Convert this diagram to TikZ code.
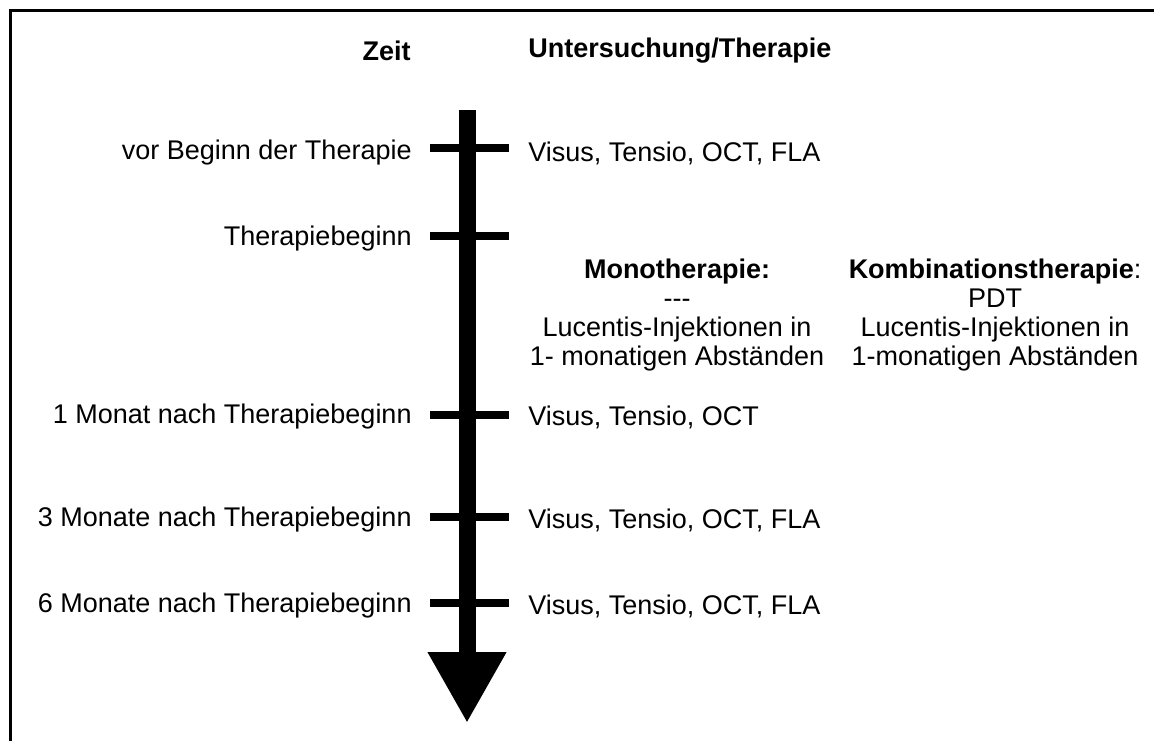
\documentclass[tikz,border=0pt]{standalone}
\usepackage{fontspec}
\setmainfont{Liberation Sans}
\usetikzlibrary{arrows.meta}

\begin{document}
\begin{tikzpicture}[x=0.5pt,y=-0.5pt,
  every node/.style={font=\fontsize{13.5}{14.5}\selectfont,inner sep=0pt},
  kopf/.style={font=\fontsize{13.5}{14.5}\selectfont\bfseries},
  zeitlabel/.style={anchor=east},
  befund/.style={anchor=west},
  block/.style={align=center},
  strich/.style={line width=4pt}]
\useasboundingbox (0,0) rectangle (1154,740);
\clip (0,0) rectangle (1154,740);

\draw[line width=1.5pt] (10,760) -- (10,10) -- (1170,10);

\node[kopf,zeitlabel] (zeit) at (411,51) {Zeit};
\node[kopf,befund] (unters) at (528,51) {Untersuchung/Therapie};

\coordinate (top) at (467,110);
\coordinate (tip) at (467,723);
\draw[line width=8.5pt,-{Triangle[length=35.5pt,width=37pt]}] (top) -- (tip);

\coordinate (t1l) at (430,148);
\coordinate (t1r) at (509,148);
\coordinate (t2l) at (430,236);
\coordinate (t2r) at (509,236);
\coordinate (t3l) at (430,415);
\coordinate (t3r) at (509,415);
\coordinate (t4l) at (430,517);
\coordinate (t4r) at (509,517);
\coordinate (t5l) at (430,603);
\coordinate (t5r) at (509,603);

\draw[strich] (t1l) -- (t1r);
\draw[strich] (t2l) -- (t2r);
\draw[strich] (t3l) -- (t3r);
\draw[strich] (t4l) -- (t4r);
\draw[strich] (t5l) -- (t5r);

\node[zeitlabel] (vor) at (412,153) {vor Beginn der Therapie};
\node[zeitlabel] (beginn) at (412,239) {Therapiebeginn};
\node[zeitlabel] (m1) at (412,417) {1 Monat nach Therapiebeginn};
\node[zeitlabel] (m3) at (412,520) {3 Monate nach Therapiebeginn};
\node[zeitlabel] (m6) at (412,606) {6 Monate nach Therapiebeginn};

\node[befund] (b1) at (528,153) {Visus, Tensio, OCT, FLA};
\node[befund] (b3) at (528,417) {Visus, Tensio, OCT};
\node[befund] (b4) at (528,520) {Visus, Tensio, OCT, FLA};
\node[befund] (b5) at (528,606) {Visus, Tensio, OCT, FLA};

\node[block] (mono) at (677,315) {\textbf{Monotherapie:}\\{-}{-}{-}\\Lucentis-Injektionen in\\1- monatigen Abst\"anden};
\node[block] (kombi) at (995,315) {\textbf{Kombinationstherapie}:\\PDT\\Lucentis-Injektionen in\\1-monatigen Abst\"anden};
\end{tikzpicture}
\end{document}
